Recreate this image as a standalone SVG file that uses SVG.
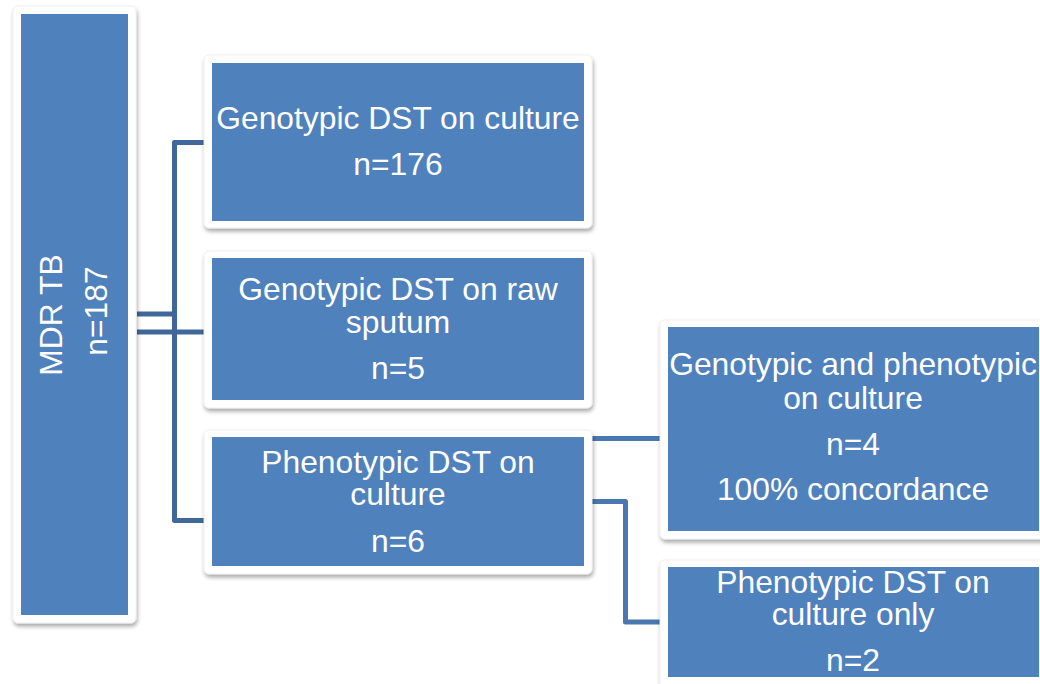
<svg xmlns="http://www.w3.org/2000/svg" width="1040" height="684" viewBox="0 0 1040 684">
<defs>
<filter id="sh" x="-10%" y="-10%" width="120%" height="125%">
<feGaussianBlur in="SourceAlpha" stdDeviation="2"/>
<feOffset dx="1" dy="3" result="b"/>
<feComponentTransfer><feFuncA type="linear" slope="0.35"/></feComponentTransfer>
<feMerge><feMergeNode/><feMergeNode in="SourceGraphic"/></feMerge>
</filter>
</defs>
<style>
.frame{fill:#ffffff;stroke:#ececec;stroke-width:0.8;filter:url(#sh)}
.box{fill:#4f81bd}
.t{font-family:"Liberation Sans",Arial,sans-serif;font-size:31.8px;fill:#ffffff;text-anchor:middle}
.cl{fill:none;stroke:#3f6899;stroke-width:5;stroke-linejoin:round}
.cr{fill:none;stroke:#4a77b0;stroke-width:5;stroke-linejoin:round}
</style>
<rect width="1040" height="684" fill="#ffffff"/>
<g id="connectors">
<path class="cl" d="M137,314 H174.5"/>
<path class="cl" d="M137,332 H205"/>
<path class="cl" d="M205,142.5 H174.5 V520.5 H205"/>
<path class="cr" d="M592,438.5 H660"/>
<path class="cr" d="M592,501.5 H625.5 V622 H660"/>
</g>
<g id="mdr">
<rect class="frame" x="13" y="6" width="123" height="617" rx="5"/>
<rect class="box" x="21" y="14" width="107" height="601"/>
<text class="t" transform="translate(62,315) rotate(-90)">MDR TB</text>
<text class="t" transform="translate(107,311) rotate(-90)">n=187</text>
</g>
<g id="geno-culture">
<rect class="frame" x="204" y="55" width="388" height="173" rx="5"/>
<rect class="box" x="212" y="63" width="372" height="158"/>
<text class="t" x="398" y="129">Genotypic DST on culture</text>
<text class="t" x="398" y="175">n=176</text>
</g>
<g id="geno-sputum">
<rect class="frame" x="204" y="251" width="388" height="157" rx="5"/>
<rect class="box" x="212" y="258" width="372" height="142"/>
<text class="t" x="398" y="300">Genotypic DST on raw</text>
<text class="t" x="398" y="333">sputum</text>
<text class="t" x="398" y="379">n=5</text>
</g>
<g id="pheno-culture">
<rect class="frame" x="204" y="430" width="388" height="144" rx="5"/>
<rect class="box" x="212" y="437" width="372" height="129"/>
<text class="t" x="398" y="473">Phenotypic DST on</text>
<text class="t" x="398" y="505">culture</text>
<text class="t" x="398" y="552">n=6</text>
</g>
<g id="geno-pheno">
<rect class="frame" x="660" y="320" width="388" height="219" rx="5"/>
<rect class="box" x="668" y="327" width="371" height="204"/>
<text class="t" x="853" y="375">Genotypic and phenotypic</text>
<text class="t" x="853" y="409">on culture</text>
<text class="t" x="853" y="455">n=4</text>
<text class="t" x="853" y="500">100% concordance</text>
</g>
<g id="pheno-only">
<rect class="frame" x="660" y="560" width="388" height="130" rx="5"/>
<rect class="box" x="668" y="567" width="371" height="110"/>
<text class="t" x="853" y="593">Phenotypic DST on</text>
<text class="t" x="853" y="625">culture only</text>
<text class="t" x="853" y="671">n=2</text>
</g>
</svg>
